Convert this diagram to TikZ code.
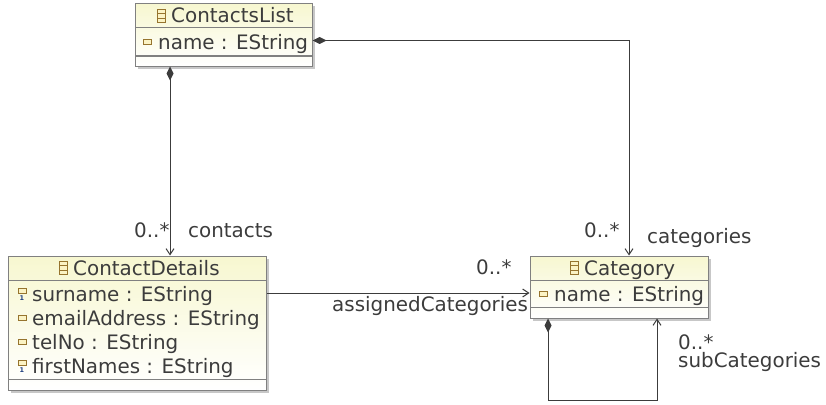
\documentclass[tikz,border=0pt]{standalone}
\usepackage{fontspec}
\setmainfont{DejaVu Sans}
\usetikzlibrary{arrows.meta,shadows}
\definecolor{inkgrey}{HTML}{3C3C3C}
\definecolor{boxedge}{HTML}{808080}
\definecolor{boxtop}{HTML}{F7F7D0}
\definecolor{iconbrown}{HTML}{96742E}
\definecolor{iconfill}{HTML}{FBF3C4}
\definecolor{iconblue}{HTML}{1F3F7F}
\begin{document}
\begin{tikzpicture}[
        x = 1pt, y = -1pt,
        box/.style = {draw = boxedge, line width = 1pt, rectangle, inner sep = 0mm, top color = boxtop, bottom color = white,
            general shadow = {fill = black!22, shadow xshift = 2.5pt, shadow yshift = -2.5pt}},
        txt/.style = {inner sep = 0mm, text = inkgrey, font = \fontsize{19.9}{19.9}\selectfont, anchor = base west},
        rule/.style = {draw = boxedge, line width = 1pt},
        attr/.style = {draw = iconbrown, fill = iconfill, line width = 1pt, inner sep = 0mm, minimum width = 8pt, minimum height = 4.5pt},
        bar/.style = {draw = iconbrown, fill = iconfill, line width = .8pt, inner sep = 0mm, minimum width = 8pt, minimum height = 4.5pt},
        one/.style = {inner sep = 0mm, text = iconblue, font = \fontsize{6.5}{6.5}\selectfont\bfseries},
        comp/.style = {draw = inkgrey, line width = 1pt, {Diamond[length = 14pt, width = 7pt]}-{Straight Barb[length = 6pt, width = 8pt]}},
        ref/.style = {draw = inkgrey, line width = 1pt, -{Straight Barb[length = 6pt, width = 8pt]}},
    ]
    \useasboundingbox (0,0) rectangle (826,404);

    \node (list) [box, minimum width = 177pt, minimum height = 62pt] at (223.5,35) {};
    \node (details) [box, minimum width = 257.5pt, minimum height = 134pt] at (137.25,323) {};
    \node (cat) [box, minimum width = 178pt, minimum height = 62pt] at (619,287) {};

    \draw[rule] (135,28) -- (312,28);
    \draw[rule] (135,56) -- (312,56);
    \draw[rule] (8.5,280) -- (266,280);
    \draw[rule] (8.5,379) -- (266,379);
    \draw[rule] (530,280) -- (708,280);
    \draw[rule] (530,307) -- (708,307);

    % class icons
    \foreach \ix/\iy in {161/16, 63/268, 574/268} {
        \node [bar] at (\ix,\iy-4.5) {};
        \node [bar] at (\ix,\iy) {};
        \node [bar] at (\ix,\iy+4.5) {};
    }
    % attribute icons
    \foreach \ix/\iy in {147/42, 22/318, 22/342, 543/294} {
        \node [attr] at (\ix,\iy) {};
    }
    \node [attr] at (22,291) {};
    \node [one] at (22,298.5) {1};
    \node [attr] at (22,363) {};
    \node [one] at (22,370.5) {1};

    \node (listname) [txt] at (171,23) {ContactsList};
    \node (listattr) [txt] at (158,49) {name : EString};
    \node (detname) [txt] at (73,275) {ContactDetails};
    \node (surname) [txt] at (32,301) {surname : EString};
    \node (email) [txt] at (32,325) {emailAddress : EString};
    \node (tel) [txt] at (32,349) {telNo : EString};
    \node (first) [txt] at (32,373) {firstNames : EString};
    \node (catname) [txt] at (584,275) {Category};
    \node (catattr) [txt] at (554,301) {name : EString};

    \node (m1) [txt] at (134,237) {0..*};
    \node (l1) [txt] at (188,237) {contacts};
    \node (m2) [txt] at (584,237) {0..*};
    \node (l2) [txt] at (647,243) {categories};
    \node (m3) [txt] at (476,274) {0..*};
    \node (l3) [txt] at (332,311) {assignedCategories};
    \node (m4) [txt] at (678,349) {0..*};
    \node (l4) [txt] at (678,367.5) {subCategories};

    \path[comp] ([xshift = -53.5pt]list.south) -- ([xshift = 32.75pt]details.north);
    \path[comp] (list.east |- 0,40.5) -- (629,40.5) -- (cat.north -| 629,0);
    \path[ref] (details.east |- 0,293) -- (cat.west |- 0,293);
    \path[comp] (cat.south -| 548,0) -- (548,400) -- (657,400) -- (cat.south -| 657,0);
\end{tikzpicture}
\end{document}
